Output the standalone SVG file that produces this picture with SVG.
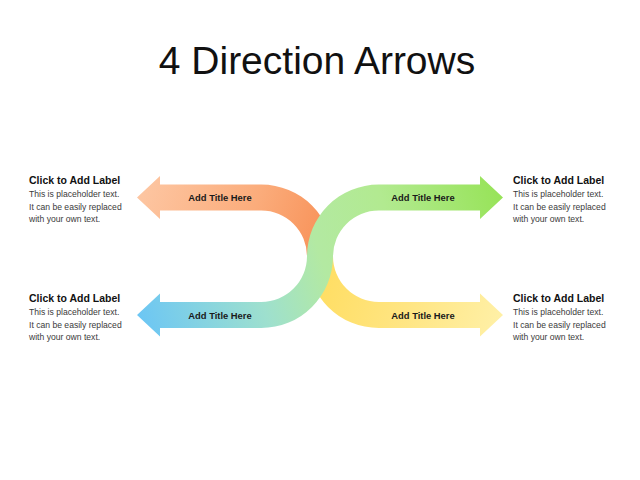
<svg xmlns="http://www.w3.org/2000/svg" width="640" height="480" viewBox="0 0 640 480">
  <defs>
    <linearGradient id="gOY" gradientUnits="userSpaceOnUse" x1="137" y1="197.5" x2="503" y2="315">
      <stop offset="0" stop-color="#FDC6A2"/>
      <stop offset="0.3" stop-color="#FBAC7B"/>
      <stop offset="0.49" stop-color="#F8935A"/>
      <stop offset="0.5" stop-color="#FFDD60"/>
      <stop offset="0.75" stop-color="#FFE582"/>
      <stop offset="1" stop-color="#FFF0A6"/>
    </linearGradient>
    <linearGradient id="gBG" gradientUnits="userSpaceOnUse" x1="137" y1="315" x2="503" y2="197.5">
      <stop offset="0" stop-color="#6CC6F4"/>
      <stop offset="0.32" stop-color="#9EE0CE"/>
      <stop offset="0.5" stop-color="#B3E9A2"/>
      <stop offset="0.7" stop-color="#B2EA90"/>
      <stop offset="1" stop-color="#97E358"/>
    </linearGradient>
    <style>
      .title { font-family: "Liberation Sans", Arial, sans-serif; font-size: 39px; fill: #111; text-anchor: middle; }
      .at { font-family: "Liberation Sans", Arial, sans-serif; font-size: 9.4px; font-weight: bold; fill: #1a1a1a; text-anchor: middle; }
      .lh { font-family: "Liberation Sans", Arial, sans-serif; font-size: 10.5px; font-weight: bold; fill: #111; }
      .lb { font-family: "Liberation Sans", Arial, sans-serif; font-size: 8.6px; fill: #3a3a3a; }
    </style>
  </defs>

  <rect width="640" height="480" fill="#ffffff"/>

  <text class="title" x="317" y="74">4 Direction Arrows</text>

  <g id="connectors">
    <g id="arrow-orange">
      <path d="M137,197.5 L160,176 V184.5 H261.25 A71.75,71.75 0 0 1 333,256.25 H307 A45.75,45.75 0 0 0 261.25,210.5 H160 V219 Z" fill="url(#gOY)"/>
    </g>
    <g id="arrow-yellow">
      <path d="M307,256.25 H333 A45.75,45.75 0 0 0 378.75,302 H480 V293.5 L503,315 L480,336.5 V328 H378.75 A71.75,71.75 0 0 1 307,256.25 Z" fill="url(#gOY)"/>
    </g>
    <g id="arrow-green">
      <path d="M307,256.9 V256.25 A71.75,71.75 0 0 1 378.75,184.5 H480 V176 L503,197.5 L480,219 V210.5 H378.75 A45.75,45.75 0 0 0 333,256.25 V256.9 Z" fill="url(#gBG)"/>
    </g>
    <g id="arrow-blue">
      <path d="M333,256.25 A71.75,71.75 0 0 1 261.25,328 H160 V336.5 L137,315 L160,293.5 V302 H261.25 A45.75,45.75 0 0 0 307,256.25 Z" fill="url(#gBG)"/>
    </g>
  </g>

  <g id="node-title-tl"><text class="at" x="220" y="201">Add Title Here</text></g>
  <g id="node-title-tr"><text class="at" x="423" y="201">Add Title Here</text></g>
  <g id="node-title-bl"><text class="at" x="220" y="318.5">Add Title Here</text></g>
  <g id="node-title-br"><text class="at" x="423" y="318.5">Add Title Here</text></g>

  <g id="node-label-tl">
    <text class="lh" x="29" y="184">Click to Add Label</text>
    <text class="lb" x="29" y="197">This is placeholder text.</text>
    <text class="lb" x="29" y="209.5">It can be easily replaced</text>
    <text class="lb" x="29" y="222">with your own text.</text>
  </g>
  <g id="node-label-tr">
    <text class="lh" x="513" y="184">Click to Add Label</text>
    <text class="lb" x="513" y="197">This is placeholder text.</text>
    <text class="lb" x="513" y="209.5">It can be easily replaced</text>
    <text class="lb" x="513" y="222">with your own text.</text>
  </g>
  <g id="node-label-bl">
    <text class="lh" x="29" y="302">Click to Add Label</text>
    <text class="lb" x="29" y="315">This is placeholder text.</text>
    <text class="lb" x="29" y="327.5">It can be easily replaced</text>
    <text class="lb" x="29" y="340">with your own text.</text>
  </g>
  <g id="node-label-br">
    <text class="lh" x="513" y="302">Click to Add Label</text>
    <text class="lb" x="513" y="315">This is placeholder text.</text>
    <text class="lb" x="513" y="327.5">It can be easily replaced</text>
    <text class="lb" x="513" y="340">with your own text.</text>
  </g>
</svg>
